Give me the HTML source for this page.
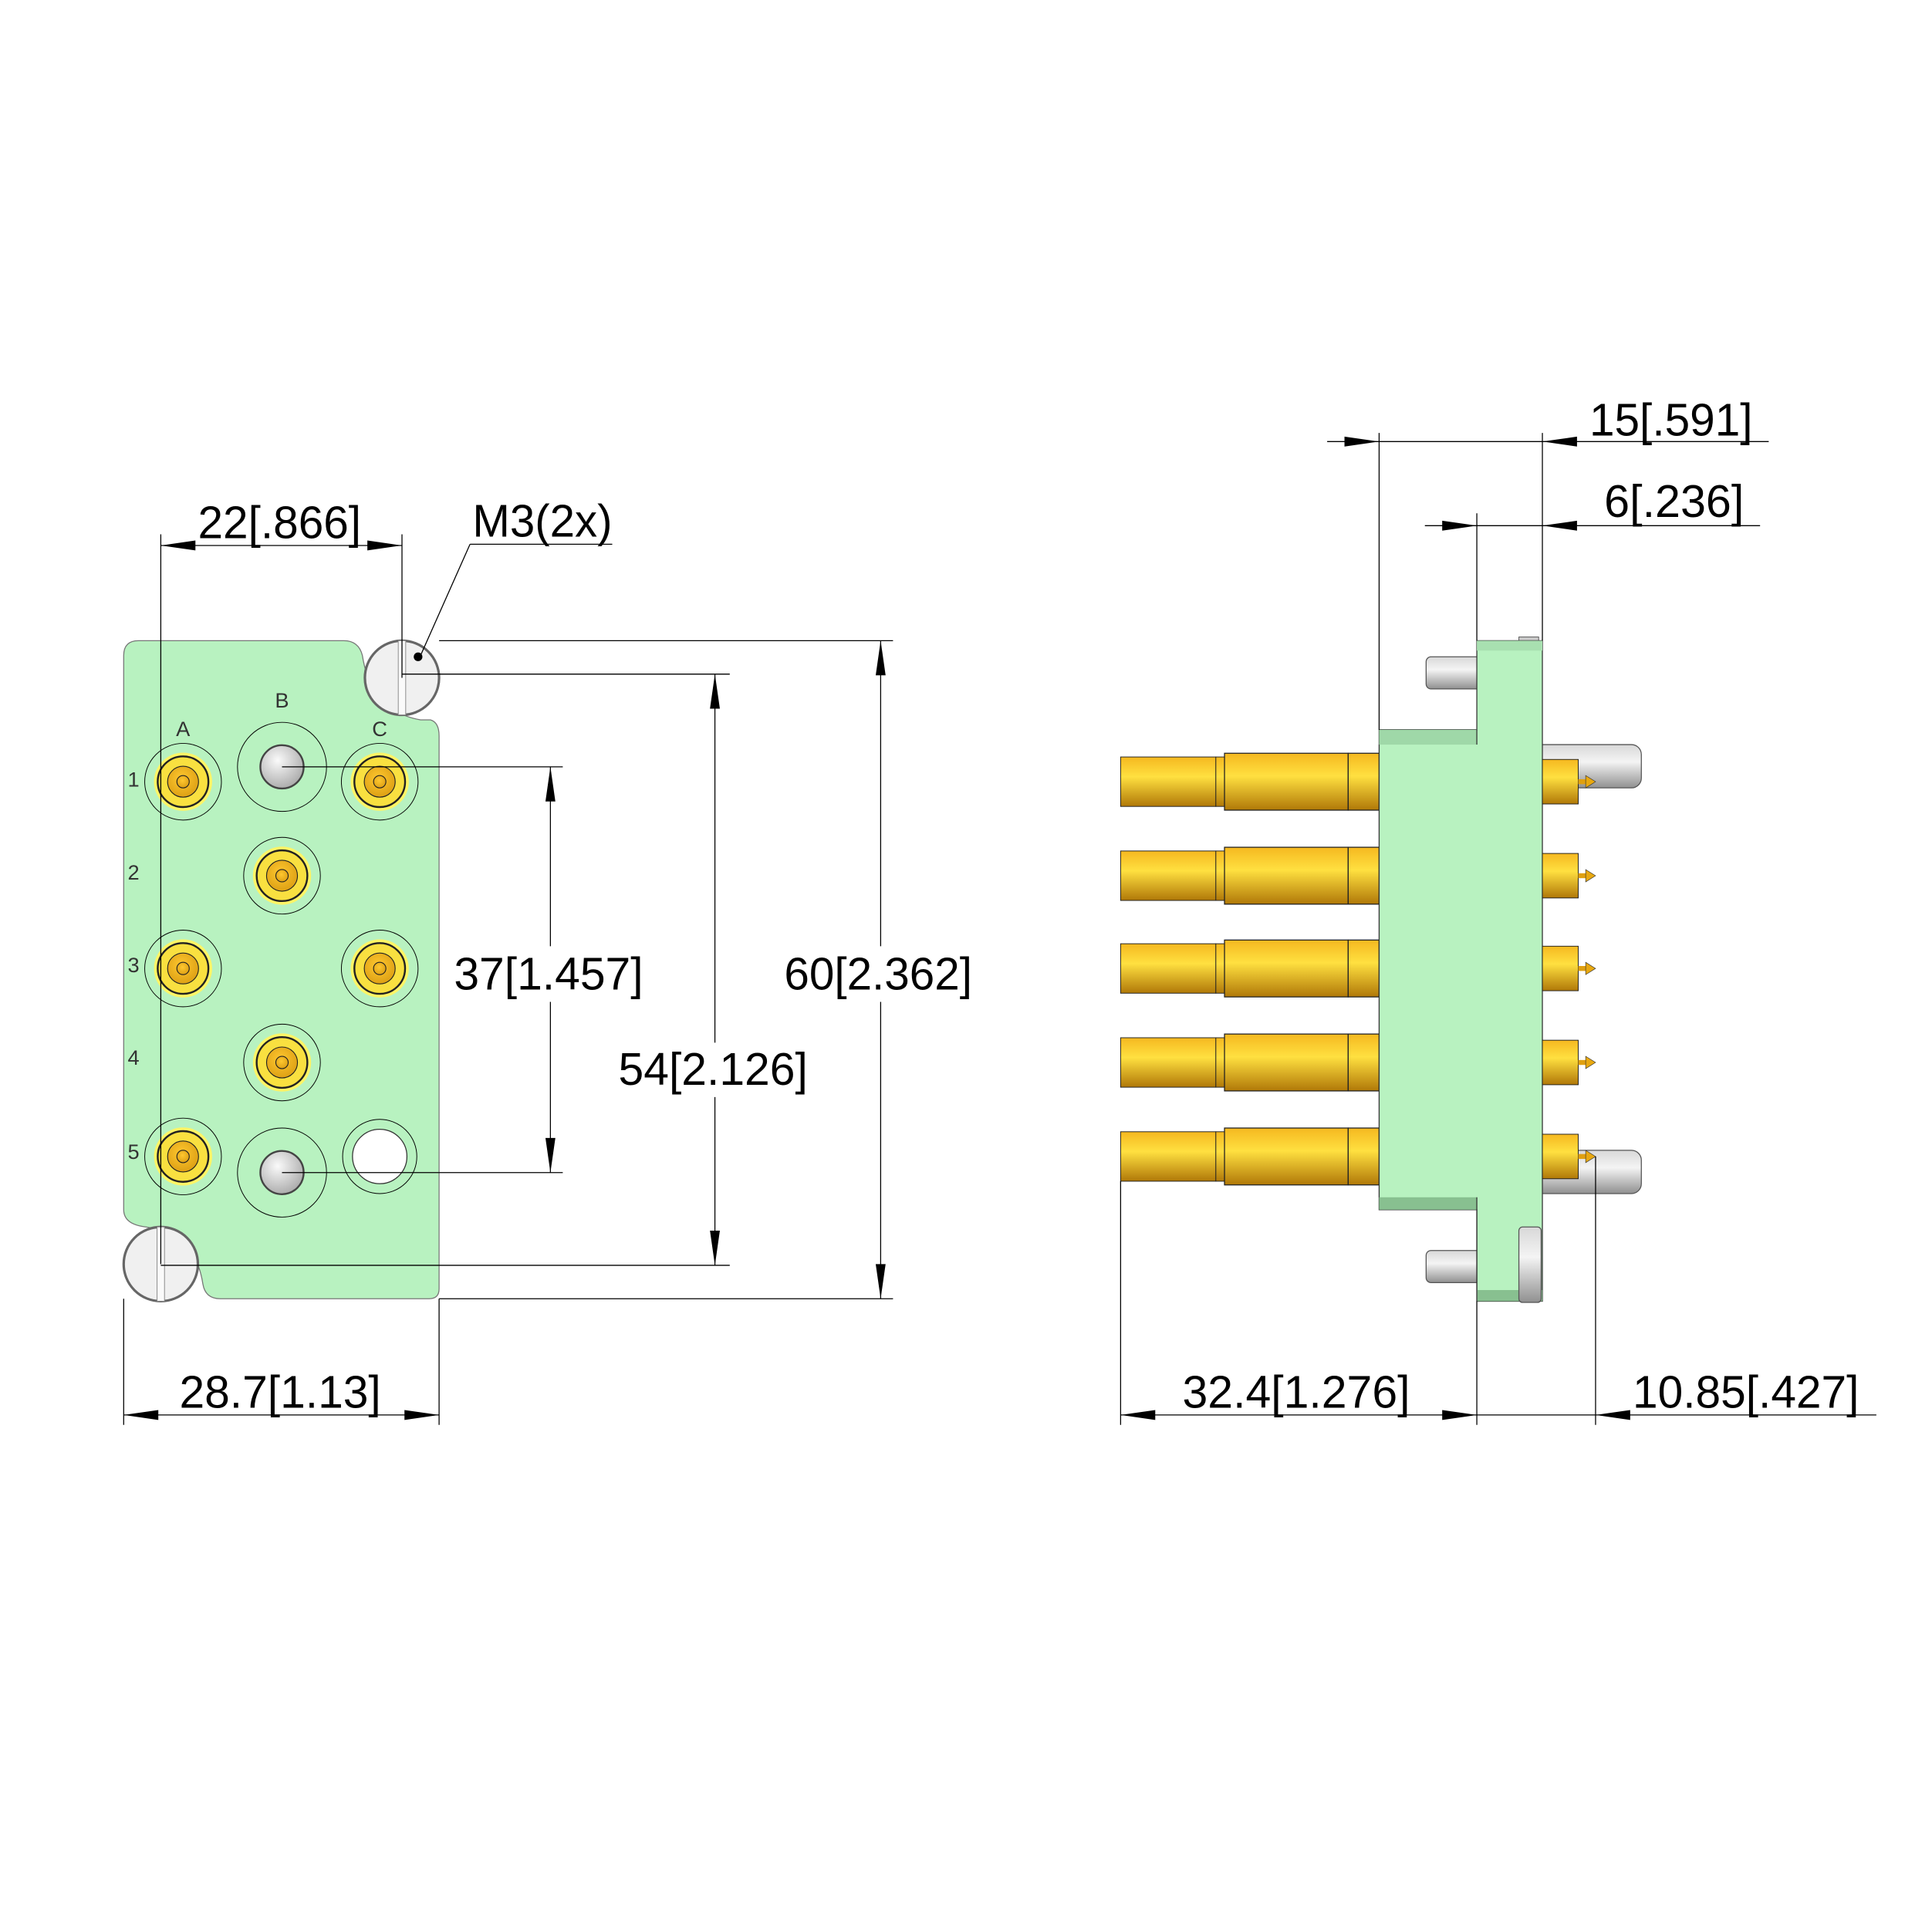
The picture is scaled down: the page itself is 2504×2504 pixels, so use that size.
<!DOCTYPE html>
<html><head><meta charset="utf-8"><style>html,body{margin:0;padding:0;background:#fff}svg{display:block}</style></head><body>
<svg width="2504" height="2504" viewBox="0 0 1562 1562" xmlns="http://www.w3.org/2000/svg" font-family="Liberation Sans, sans-serif">
<defs>
<radialGradient id="gy" cx="0.4" cy="0.35" r="0.7"><stop offset="0" stop-color="#fafafa"/><stop offset="1" stop-color="#a8a8a8"/></radialGradient>
<radialGradient id="og" cx="0.45" cy="0.4" r="0.7"><stop offset="0" stop-color="#ffc830"/><stop offset="1" stop-color="#d89a10"/></radialGradient>
<linearGradient id="gv" x1="0" y1="0" x2="0" y2="1"><stop offset="0" stop-color="#f5b820"/><stop offset="0.4" stop-color="#ffe040"/><stop offset="1" stop-color="#b07808"/></linearGradient>
<linearGradient id="pv" x1="0" y1="0" x2="0" y2="1"><stop offset="0" stop-color="#d8d8d8"/><stop offset="0.4" stop-color="#f4f4f4"/><stop offset="1" stop-color="#909090"/></linearGradient>
<g id="gold">
<circle r="31" fill="none" stroke="#000" stroke-width="0.6"/>
<circle r="23.5" fill="#fff565"/>
<circle r="20.5" fill="#f9e040" stroke="#222" stroke-width="1.5"/>
<circle r="12.5" fill="url(#og)" stroke="#222" stroke-width="0.7"/>
<circle r="5" fill="url(#og)" stroke="#222" stroke-width="0.7"/>
</g>
<g id="gpin">
<circle r="36" fill="none" stroke="#000" stroke-width="0.6"/>
<circle r="17.5" fill="url(#gy)" stroke="#444" stroke-width="1.5"/>
</g>
<g id="lpin">
<rect x="906" y="-20" width="77" height="40" fill="url(#gv)" stroke="#222" stroke-width="0.6"/>
<rect x="983" y="-20" width="7" height="40" fill="url(#gv)" stroke="#222" stroke-width="0.6"/>
<rect x="990" y="-23" width="100" height="46" fill="url(#gv)" stroke="#222" stroke-width="0.8"/>
<rect x="1090" y="-23" width="25" height="46" fill="url(#gv)" stroke="#222" stroke-width="0.8"/>
</g>
<g id="rpin">
<rect x="1247" y="-18" width="29" height="36" fill="url(#gv)" stroke="#222" stroke-width="0.6"/>
<rect x="1276" y="-2" width="8" height="4" fill="#e0a010"/>
<path d="M1282,-5 L1290,0 L1282,5 Z" fill="#e8a810" stroke="#333" stroke-width="0.4"/>
</g>
</defs>

<!-- LEFT VIEW -->
<path d="M112,518 L278,518 Q290,518 293,530 Q300,575 340,582 L348,582 Q355,584 355,595 L355,1042 Q355,1050 347,1050 L178,1050 Q166,1050 164,1038 Q158,998 118,992 Q100,990 100,978 L100,530 Q100,518 112,518 Z" fill="#b8f2c0" stroke="#777" stroke-width="0.8"/>
<!-- screws -->
<circle cx="325" cy="548" r="30" fill="#f0f0f0" stroke="#666" stroke-width="2"/>
<rect x="322" y="518" width="6" height="60" fill="#fafafa" stroke="#888" stroke-width="0.6"/>
<circle cx="130" cy="1022" r="30" fill="#f0f0f0" stroke="#666" stroke-width="2"/>
<rect x="127" y="992" width="6" height="60" fill="#fafafa" stroke="#888" stroke-width="0.6"/>
<circle cx="338" cy="531" r="3.5" fill="#000"/>

<use href="#gold" x="148" y="632"/>
<use href="#gpin" x="228" y="620"/>
<use href="#gold" x="307" y="632"/>
<use href="#gold" x="228" y="708"/>
<use href="#gold" x="148" y="783"/>
<use href="#gold" x="307" y="783"/>
<use href="#gold" x="228" y="859"/>
<use href="#gold" x="148" y="935"/>
<use href="#gpin" x="228" y="948"/>
<circle cx="307" cy="935" r="30" fill="none" stroke="#000" stroke-width="0.6"/>
<circle cx="307" cy="935" r="22" fill="#fff" stroke="#333" stroke-width="0.8"/>

<g font-size="17" fill="#333" text-anchor="middle">
<text x="148" y="595">A</text><text x="228" y="572">B</text><text x="307" y="595">C</text>
<text x="108" y="636">1</text><text x="108" y="711">2</text><text x="108" y="786">3</text><text x="108" y="861">4</text><text x="108" y="937">5</text>
</g>

<!-- left dims lines -->
<g stroke="#000" stroke-width="0.8" fill="none">
<line x1="130" y1="432" x2="130" y2="1022"/>
<line x1="325" y1="432" x2="325" y2="548"/>
<line x1="130" y1="441" x2="325" y2="441"/>
<polyline points="380,530 380,530"/>
<line x1="340" y1="530" x2="380" y2="440"/>
<line x1="380" y1="440" x2="495" y2="440"/>
<line x1="355" y1="518" x2="722" y2="518"/>
<line x1="355" y1="1050" x2="722" y2="1050"/>
<line x1="712" y1="518" x2="712" y2="765"/>
<line x1="712" y1="810" x2="712" y2="1050"/>
<line x1="325" y1="545" x2="590" y2="545"/>
<line x1="130" y1="1023" x2="590" y2="1023"/>
<line x1="578" y1="545" x2="578" y2="843"/>
<line x1="578" y1="887" x2="578" y2="1023"/>
<line x1="228" y1="620" x2="455" y2="620"/>
<line x1="228" y1="948" x2="455" y2="948"/>
<line x1="445" y1="620" x2="445" y2="765"/>
<line x1="445" y1="810" x2="445" y2="948"/>
<line x1="100" y1="1050" x2="100" y2="1152"/>
<line x1="355" y1="1050" x2="355" y2="1152"/>
<line x1="100" y1="1144" x2="355" y2="1144"/>
</g>
<g fill="#000">
<path d="M130,441 L158,437 L158,445 Z"/><path d="M325,441 L297,437 L297,445 Z"/>
<path d="M712,518 L708,546 L716,546 Z"/><path d="M712,1050 L708,1022 L716,1022 Z"/>
<path d="M578,545 L574,573 L582,573 Z"/><path d="M578,1023 L574,995 L582,995 Z"/>
<path d="M445,620 L441,648 L449,648 Z"/><path d="M445,948 L441,920 L449,920 Z"/>
<path d="M100,1144 L128,1140 L128,1148 Z"/><path d="M355,1144 L327,1140 L327,1148 Z"/>
</g>
<g font-size="37" fill="#000">
<text x="160" y="435" textLength="132" lengthAdjust="spacingAndGlyphs">22[.866]</text>
<text x="382" y="434" textLength="113" lengthAdjust="spacingAndGlyphs">M3(2x)</text>
<text x="634" y="800" textLength="152" lengthAdjust="spacingAndGlyphs">60[2.362]</text>
<text x="500" y="877" textLength="153" lengthAdjust="spacingAndGlyphs">54[2.126]</text>
<text x="367" y="800" textLength="153" lengthAdjust="spacingAndGlyphs">37[1.457]</text>
<text x="145" y="1138" textLength="163" lengthAdjust="spacingAndGlyphs">28.7[1.13]</text>
</g>

<!-- RIGHT VIEW -->
<!-- right gray pins -->
<rect x="1240" y="602" width="87" height="35" rx="8" fill="url(#pv)" stroke="#555" stroke-width="0.8"/>
<rect x="1240" y="930" width="87" height="35" rx="8" fill="url(#pv)" stroke="#555" stroke-width="0.8"/>
<!-- left guide pins -->
<rect x="1153" y="531" width="45" height="26" rx="4" fill="url(#pv)" stroke="#555" stroke-width="0.8"/>
<rect x="1153" y="1011" width="45" height="26" rx="4" fill="url(#pv)" stroke="#555" stroke-width="0.8"/>
<!-- left gold pins -->
<use href="#lpin" y="632"/><use href="#lpin" y="708"/><use href="#lpin" y="783"/><use href="#lpin" y="859"/><use href="#lpin" y="935"/>
<!-- body -->
<rect x="1228" y="515" width="16" height="6" fill="#ccc" stroke="#555" stroke-width="0.6"/>
<path d="M1194,518 L1247,518 L1247,1052 L1194,1052 L1194,978 L1115,978 L1115,590 L1194,590 Z" fill="#b8f2c0" stroke="#333" stroke-width="0.8"/>
<rect x="1115" y="590" width="79" height="12" fill="#9fd8a8"/>
<rect x="1194" y="518" width="53" height="8" fill="#a8e0b0"/>
<rect x="1115" y="968" width="79" height="10" fill="#88c090"/>
<rect x="1194" y="1043" width="53" height="9" fill="#88c090"/>
<line x1="1194" y1="590" x2="1194" y2="602" stroke="#333" stroke-width="0.8"/>
<line x1="1194" y1="968" x2="1194" y2="1052" stroke="#333" stroke-width="0.8"/>
<rect x="1228" y="992" width="18" height="61" rx="3" fill="url(#pv)" stroke="#555" stroke-width="0.8"/>
<!-- right gold -->
<use href="#rpin" y="632"/><use href="#rpin" y="708"/><use href="#rpin" y="783"/><use href="#rpin" y="859"/><use href="#rpin" y="935"/>

<g stroke="#000" stroke-width="0.8" fill="none">
<line x1="1115" y1="350" x2="1115" y2="590"/>
<line x1="1247" y1="350" x2="1247" y2="518"/>
<line x1="1073" y1="357" x2="1430" y2="357"/>
<line x1="1194" y1="415" x2="1194" y2="518"/>
<line x1="1152" y1="425" x2="1423" y2="425"/>
<line x1="906" y1="955" x2="906" y2="1152"/>
<line x1="1194" y1="1052" x2="1194" y2="1152"/>
<line x1="1290" y1="935" x2="1290" y2="1152"/>
<line x1="906" y1="1144" x2="1517" y2="1144"/>
</g>
<g fill="#000">
<path d="M1115,357 L1087,353 L1087,361 Z"/><path d="M1247,357 L1275,353 L1275,361 Z"/>
<path d="M1194,425 L1166,421 L1166,429 Z"/><path d="M1247,425 L1275,421 L1275,429 Z"/>
<path d="M906,1144 L934,1140 L934,1148 Z"/><path d="M1194,1144 L1166,1140 L1166,1148 Z"/>
<path d="M1290,1144 L1318,1140 L1318,1148 Z"/>
</g>
<g font-size="37" fill="#000">
<text x="1285" y="352" textLength="132" lengthAdjust="spacingAndGlyphs">15[.591]</text>
<text x="1297" y="418" textLength="113" lengthAdjust="spacingAndGlyphs">6[.236]</text>
<text x="956" y="1138" textLength="184" lengthAdjust="spacingAndGlyphs">32.4[1.276]</text>
<text x="1320" y="1138" textLength="183" lengthAdjust="spacingAndGlyphs">10.85[.427]</text>
</g>
</svg>
</body></html>
